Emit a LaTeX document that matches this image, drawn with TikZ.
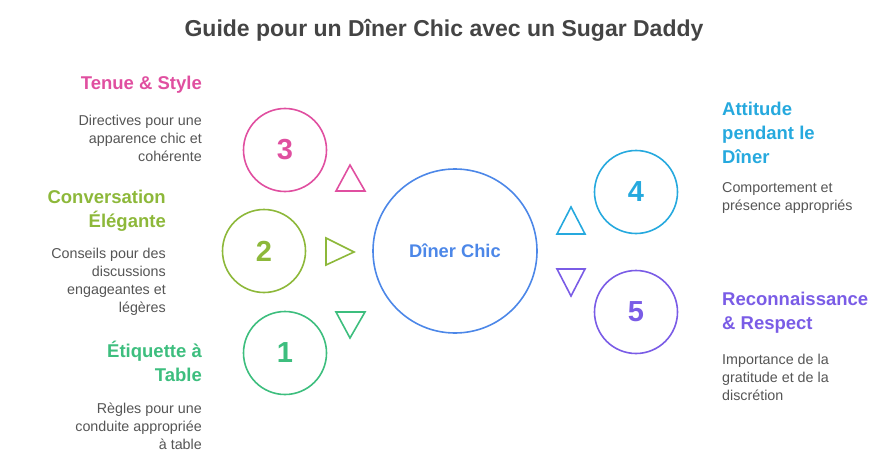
\documentclass[tikz,border=0pt]{standalone}
\usepackage{fontspec}
\setmainfont{Liberation Sans}
\usepackage{xcolor}
\definecolor{titlegray}{HTML}{444444}
\definecolor{descgray}{HTML}{555555}
\definecolor{chicblue}{HTML}{4C87E8}
\definecolor{stylepink}{HTML}{E04FA0}
\definecolor{convgreen}{HTML}{8DB83A}
\definecolor{tablegreen}{HTML}{3DBE7E}
\definecolor{attcyan}{HTML}{26A9DE}
\definecolor{respurple}{HTML}{7A5CE6}

\tikzset{
    ring/.style={circle, draw=#1, line width=1.6pt, minimum size=83pt, inner sep=0pt,
        text=#1, font=\bfseries\fontsize{29}{29}\selectfont},
    head/.style={text=#1, font=\bfseries\fontsize{18.5}{24}\selectfont, inner sep=0pt},
    desc/.style={text=descgray, font=\fontsize{14.3}{18}\selectfont, inner sep=0pt},
    tri/.style={draw=#1, line width=1.6pt, line join=miter},
}

\begin{document}
\begin{tikzpicture}[x=1pt,y=1pt]
        \useasboundingbox (0,0) rectangle (888,-468);

        \node[text=titlegray, font=\bfseries\fontsize{23}{26}\selectfont] (title) at (444,-30) {Guide pour un Dîner Chic avec un Sugar Daddy};

        % centre
        \node[circle, draw=chicblue, line width=1.6pt, minimum size=164pt, inner sep=0pt,
              text=chicblue, font=\bfseries\fontsize{18.3}{18}\selectfont] (chic) at (455,-251) {Dîner Chic};

        % numbered rings
        \node[ring=stylepink]  (r3) at (285,-150) {3};
        \node[ring=convgreen]  (r2) at (264,-251) {2};
        \node[ring=tablegreen] (r1) at (285,-353) {1};
        \node[ring=attcyan]    (r4) at (636,-192) {4};
        \node[ring=respurple]  (r5) at (636,-312) {5};

        % triangles
        \draw[tri=stylepink]  (336,-191) -- (350,-165) -- (365,-191) -- cycle;
        \draw[tri=convgreen]  (326,-238) -- (354,-252) -- (326,-265) -- cycle;
        \draw[tri=tablegreen] (336,-312) -- (350,-338) -- (365,-312) -- cycle;
        \draw[tri=attcyan]    (557,-234) -- (571,-207) -- (585,-234) -- cycle;
        \draw[tri=respurple]  (557,-269) -- (571,-296) -- (585,-269) -- cycle;

        % left texts
        \node[head=stylepink, anchor=east] (h3) at (202,-85) {Tenue \& Style};
        \node[desc, anchor=east, align=right] (d3) at (202,-138) {Directives pour une\\apparence chic et\\cohérente};

        \node[head=convgreen, anchor=east, align=right] (h2) at (166,-211) {Conversation\\Élégante};
        \node[desc, anchor=east, align=right] (d2) at (166,-282) {Conseils pour des\\discussions\\engageantes et\\légères};

        \node[head=tablegreen, anchor=east, align=right] (h1) at (202,-361) {Étiquette à\\Table};
        \node[desc, anchor=east, align=right] (d1) at (202,-426) {Règles pour une\\conduite appropriée\\à table};

        % right texts
        \node[head=attcyan, anchor=west, align=left] (h4) at (722,-133) {Attitude\\pendant le\\Dîner};
        \node[desc, anchor=west, align=left] (d4) at (722,-198) {Comportement et\\présence appropriés};

        \node[head=respurple, anchor=west, align=left] (h5) at (722,-313) {Reconnaissance\\\& Respect};
        \node[desc, anchor=west, align=left] (d5) at (722,-377) {Importance de la\\gratitude et de la\\discrétion};
\end{tikzpicture}
\end{document}
